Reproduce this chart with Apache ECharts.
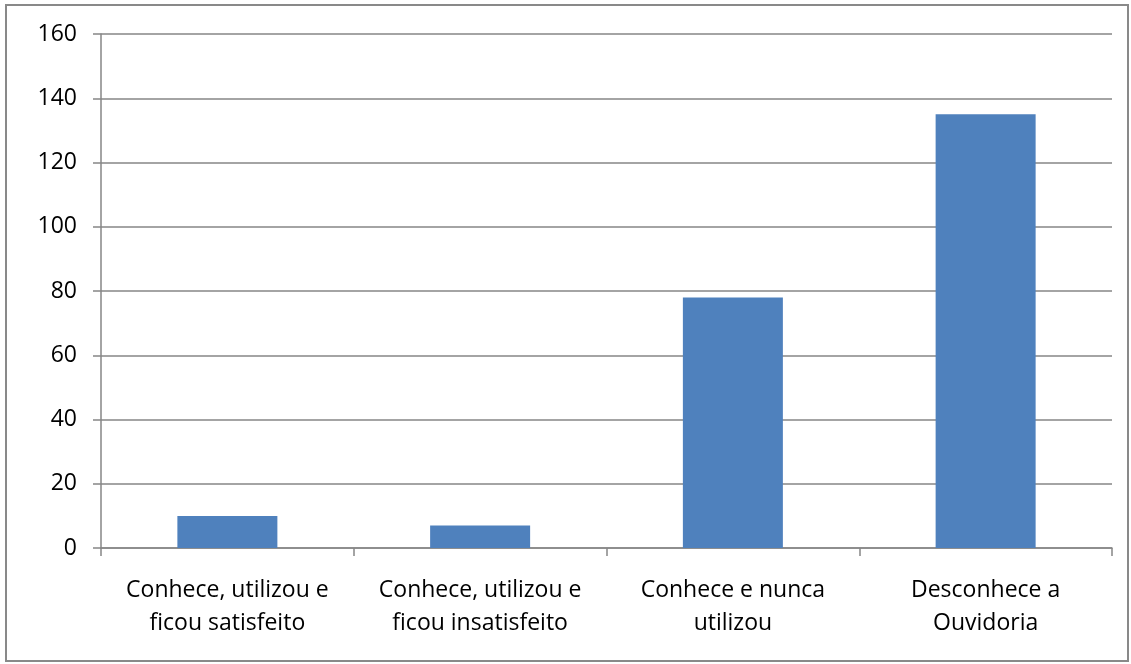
<!DOCTYPE html>
<html><head><meta charset="utf-8">
<script src="https://cdn.jsdelivr.net/npm/echarts@6/dist/echarts.min.js"></script>
<style>html,body{margin:0;padding:0;background:#fff}#c{width:1131px;height:664px}
#frame{position:absolute;left:5px;top:4px;width:1120px;height:654px;border:2px solid #898989;pointer-events:none}</style>
</head><body><div id="c"></div><div id="frame"></div>
<script>
const categories = ["Conhece, utilizou e\nficou satisfeito", "Conhece, utilizou e\nficou insatisfeito", "Conhece e nunca\nutilizou", "Desconhece a\nOuvidoria"];
const values = [10, 7, 78, 135];
const yTicks = {min: 0, max: 160, interval: 20};
const chart = echarts.init(document.getElementById('c'));
const font = '"Open Sans", "Liberation Sans", sans-serif';
chart.setOption({
  animation: false,
  grid: {left: 101, right: 19, top: 34, bottom: 116, containLabel: false},
  xAxis: {
    type: 'category', data: categories,
    axisLine: {lineStyle: {color: '#868686', width: 1.5}},
    axisTick: {show: true, length: 8, alignWithLabel: false, lineStyle: {color: '#868686', width: 1.5}},
    axisLabel: {color: '#000', fontFamily: font, fontSize: 23, lineHeight: 33, margin: 26, interval: 0}
  },
  yAxis: {
    type: 'value', min: yTicks.min, max: yTicks.max, interval: yTicks.interval,
    axisLine: {show: true, lineStyle: {color: '#868686', width: 1.5}},
    axisTick: {show: true, length: 8, lineStyle: {color: '#868686', width: 1.5}},
    splitLine: {lineStyle: {color: '#868686', width: 1.5}},
    axisLabel: {color: '#000', fontFamily: font, fontSize: 23, margin: 24}
  },
  series: [{type: 'bar', data: values, barWidth: 100, itemStyle: {color: '#4F81BD'}}]
});
</script></body></html>
